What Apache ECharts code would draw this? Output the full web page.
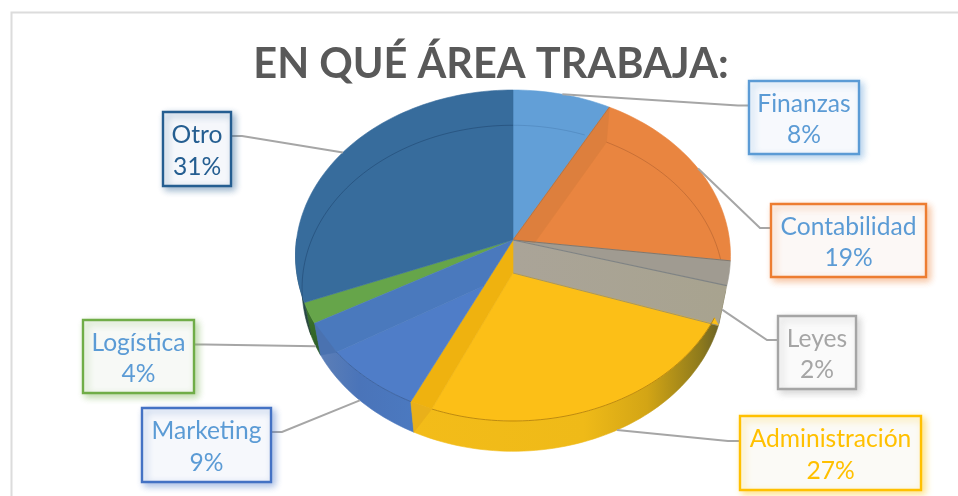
<!DOCTYPE html>
<html><head><meta charset="utf-8">
<style>html,body{margin:0;padding:0;background:#fff}#c{width:958px;height:496px}</style>
<script src="https://cdn.jsdelivr.net/npm/echarts@6/dist/echarts.min.js"></script>
</head><body><div id="c"></div>
<script>
const categories = ['Finanzas','Contabilidad','Leyes','Administración','Marketing','Logística','Otro'];
const shares = [8,19,2,27,9,4,31];
const titleText = 'EN QUÉ ÁREA TRABAJA:';

// ---- styles / layout, separate from the data ----
const FONT = 'Lato, Carlito, sans-serif';
const faceColors = ['#629fd7','#e98540','#a09b91','#fcbf17','#4f7dc8','#66a54a','#376c9c'];
const boxStyle = [
  {box:[749,81,110,73], border:'#5b9bd5', fill:'#f7f9fd', text:'#5b9bd5', el:[738,105.5], angle:0, floor:false},
  {box:[771,204,155,73], border:'#ed7d31', fill:'#fcf8f6', text:'#5b9bd5', el:[760,228], angle:0, floor:false},
  {box:[778,316,78,73], border:'#a5a5a5', fill:'#fafafa', text:'#a5a5a5', el:[767,340], angle:2, floor:true},
  {box:[740,416,181,74], border:'#ffc000', fill:'#fbfaf6', text:'#ffc000', el:[728,441], angle:0, floor:true},
  {box:[142,408,129,74], border:'#4472c4', fill:'#f6f8fc', text:'#5b9bd5', el:[282,432], angle:5, floor:true},
  {box:[83,320,111,73], border:'#70ad47', fill:'#f7f9f6', text:'#5b9bd5', el:[205,344.5], angle:3, floor:true},
  {box:[163,112,68,74], border:'#255e91', fill:'#f5f7fb', text:'#255e91', el:[242,136], angle:0, floor:false}
];

// Projection of the tilted disc
const CX = 513, CY = 240, DEPTH = 33, FLOOR_X = 0.97, FLOOR_Y = 0.985;
const RX = 216.5, BACK = 150, FRONT = 181;
const K = (FRONT - BACK) / (FRONT + BACK);
const RY = FRONT * (1 - K);
function P(deg){ const t = deg*Math.PI/180, u = Math.sin(t), v = -Math.cos(t), w = 1 - K*v;
  return [CX + RX*u/w, CY + RY*v/w]; }
function F(deg){ const p = P(deg);
  return [CX + (p[0]-CX)*FLOOR_X, CY + DEPTH + (p[1]-CY)*FLOOR_Y]; }
function arc(fn, a, b){ const n = Math.max(2, Math.ceil(Math.abs(b-a)/1.5)), r = [];
  for (let i=0;i<=n;i++) r.push(fn(a+(b-a)*i/n)); return r; }
function cross(a,b,c,d){ const x1=b[0]-a[0],y1=b[1]-a[1],x2=d[0]-c[0],y2=d[1]-c[1];
  const t=((c[0]-a[0])*y2-(c[1]-a[1])*x2)/(x1*y2-y1*x2); return [a[0]+x1*t,a[1]+y1*t]; }
const APEX = [CX,CY], APEX2 = [CX,CY+DEPTH];
const total = shares.reduce((s,v)=>s+v,0);
const edges = shares.reduce((l,v)=>{l.push(l[l.length-1]+v/total*360);return l;},[0]);

function poly(points, fill, z2, extra){
  return Object.assign({type:'polygon', z2, silent:true, shape:{points},
    style:{fill, stroke:extra&&extra.stroke||fill, lineWidth:extra&&extra.lw||0.6}});
}
function line(points, stroke, z2, lw){
  return {type:'polyline', z2, silent:true, shape:{points}, style:{fill:'none', stroke, lineWidth:lw||1}};
}
function grad(x0,y0,x1,y1,stops){ return new echarts.graphic.LinearGradient(x0,y0,x1,y1,stops.map(s=>({offset:s[0],color:s[1]}))); }
function wall(a,b,fill,z2){ return poly(arc(P,a,b).concat(arc(F,b,a)), fill, z2); }

function drawSlice(i){
  const a = edges[i], b = edges[i+1], out = [];
  if (i===0){
    out.push(poly([APEX].concat(arc(P,a,b)), faceColors[0], 2));
    out.push(line(arc(F,a,b-7), 'rgba(55,100,150,0.28)', 4));
  } else if (i===1){
    out.push(poly([APEX].concat(arc(P,a,b)), faceColors[1], 2));
    const c = cross(APEX2,F(a),APEX,P(b));
    out.push(poly([APEX,P(a),F(a),c], '#dd7f3d', 3));
    out.push(line(arc(F,a,b-12), 'rgba(150,80,40,0.4)', 4));
    out.push(line([APEX,P(a)], 'rgba(150,110,80,0.6)', 4));
    out.push(line([APEX,P(b)], 'rgba(120,110,100,0.8)', 6));
  } else if (i===2){
    const e = b+1.3;
    out.push(poly([APEX].concat(arc(P,a,e)), faceColors[2], 2));
    out.push(poly([APEX,P(e),F(e+2.7),APEX2], grad(0,0,1,0,[[0,'#aaa498'],[1,'#a8a38f']]), 5));
    out.push(line([APEX,P(e)], '#7f8384', 6, 1.2));
    out.push(line([APEX2,F(e+2.7)], '#8f8a72', 7, 0.8));
  } else if (i===3){
    const hi = b+4, lo = b-1.6, st = a+12.6;
    // outer wall
    out.push(poly(arc(P,a+3,hi).concat(arc(F,hi,a+3)),
      grad(1,0,0,0,[[0,'#5f5a2a'],[0.08,'#8e7a1c'],[0.25,'#d3a515'],[0.45,'#efba18'],[1,'#f3bc19']]), 1));
    out.push(poly([APEX2,F(a+3.9)].concat(arc(P,st,lo)), faceColors[3], 6));
    out.push(line(arc(P,st,lo), 'rgba(170,120,10,0.75)', 7));
    out.push(poly([APEX,APEX2,P(lo),P(hi)], '#efb20f', 7));
    out.push(poly([P(lo),P(hi),F(hi)], '#e9b01a', 7));
  } else if (i===4){
    const s = edges[i]+4, hi = b+7, lo = b-4;
    const x = cross(APEX,P(s),APEX2,P(lo));
    out.push(wall(s,hi,grad(1,0,0,0,[[0,'#4b79c0'],[0.55,'#4a74b9'],[1,'#5f80b6']]),1));
    out.push(poly([x].concat(arc(P,lo,s)), faceColors[4], 8));
    out.push(poly([APEX].concat(arc(P,hi,lo)).concat([x]), '#4a79bd', 8));
    out.push(poly([P(hi),F(hi),P(lo)], '#4a72b0', 8));
    out.push(line(arc(P,s,lo), 'rgba(50,80,130,0.55)', 9));
  } else if (i===5){
    const s = edges[i]+7;
    out.push(wall(s,b,grad(0,0,0,1,[[0,'#3f7a2c'],[1,'#2c5a28']]),1));
    out.push(poly([APEX].concat(arc(P,s,b)), faceColors[5], 2));
  } else {
    out.push(wall(a,a+22,grad(0,1,0,0,[[0,'#23402f'],[1,'#34638f']]),1));
    out.push(poly([APEX].concat(arc(P,a,b)), faceColors[6], 2));
    out.push(line(arc(F,a+12,b), 'rgba(25,60,100,0.45)', 4));
  }
  return out;
}

function drawLabel(i){
  const s = boxStyle[i], mid = (edges[i]+edges[i+1])/2 + s.angle;
  const start = s.floor ? F(mid) : P(mid);
  const [x,y,w,h] = s.box, ey = s.el[1];
  const lx = s.el[0] < x ? x : x+w;
  const pts = [start, s.el, [lx, ey]];
  return [
    line(pts, '#a6a6a6', 20, 2),
    {type:'rect', z2:21, silent:true, shape:{x,y,width:w,height:h},
      style:{fill:s.fill, stroke:s.border, lineWidth:2.4, shadowBlur:7, shadowOffsetX:3, shadowOffsetY:3,
             shadowColor:echarts.color.modifyAlpha(s.border,0.45)}},
    {type:'text', z2:22, silent:true, x:x+w/2, y:y+h/2+2,
      style:{text:categories[i]+'\n'+shares[i]+'%', fill:s.text, font:'24.6px '+FONT, lineHeight:31.5, align:'center', verticalAlign:'middle'}}
  ];
}

const chart = echarts.init(document.getElementById('c'), null, {renderer:'canvas'});
chart.setOption({
  animation:false,
  backgroundColor:'#fff',
  title:{text:titleText, left:486, top:39, textAlign:'center',
    textStyle:{fontFamily:FONT, fontWeight:'bold', fontSize:41.5, color:'#595959'}},
  graphic:[
    {type:'polyline', silent:true, z:0, shape:{points:[[11.5,496],[11.5,12.5],[958,12.5]]}, style:{fill:'none', stroke:'#dcdcdc', lineWidth:2}}
  ],
  series:[{
    type:'custom', coordinateSystem:'none', silent:true, z:2,
    data:shares.map((v,i)=>({name:categories[i], value:v})),
    renderItem:function(params){
      const i = params.dataIndex;
      return {type:'group', children:drawSlice(i).concat(drawLabel(i))};
    }
  }]
});
</script></body></html>
